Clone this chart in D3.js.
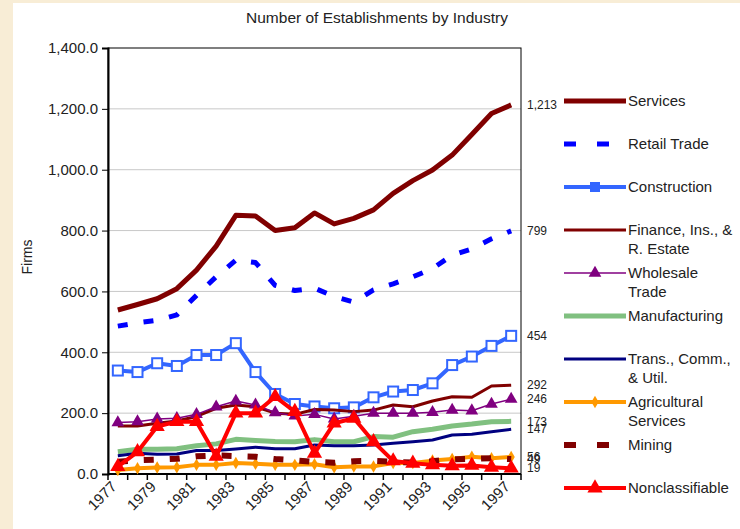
<!DOCTYPE html>
<html>
<head>
<meta charset="utf-8">
<script src="https://cdn.jsdelivr.net/npm/d3@7"></script>
<style>
  body { margin: 0; background: #f8edd6; }
  svg { display: block; font-family: "Liberation Sans", Arial, sans-serif; }
</style>
</head>
<body>
<svg id="chart" width="740" height="529"></svg>
<script>
// data
const years = [1977, 1978, 1979, 1980, 1981, 1982, 1983, 1984, 1985, 1986, 1987,
  1988, 1989, 1990, 1991, 1992, 1993, 1994, 1995, 1996, 1997];
const yearLabels = [1977, 1979, 1981, 1983, 1985, 1987, 1989, 1991, 1993, 1995, 1997];
const yTicks = [0, 200, 400, 600, 800, 1000, 1200, 1400];

const services = [539, 557, 576, 609, 670, 749, 850, 848, 800, 809, 858, 822, 840, 868, 922, 964, 999, 1048, 1116, 1185, 1213];
const retail = [486, 497, 505, 523, 587, 648, 703, 695, 620, 603, 611, 583, 565, 605, 625, 648, 675, 719, 740, 773, 799];
const construction = [340, 335, 364, 355, 391, 391, 430, 335, 263, 230, 222, 216, 219, 252, 271, 276, 298, 358, 386, 421, 454];
const finance = [158, 158, 167, 174, 189, 216, 227, 221, 200, 196, 212, 210, 205, 210, 227, 221, 240, 254, 252, 289, 292];
const wholesale = [169, 172, 181, 183, 196, 221, 240, 227, 202, 191, 196, 181, 190, 200, 200, 200, 203, 210, 208, 230, 246];
const manufacturing = [73, 81, 81, 83, 93, 99, 114, 110, 107, 106, 113, 106, 106, 123, 121, 139, 147, 158, 164, 172, 173];
const trans = [60, 68, 65, 66, 77, 77, 82, 88, 83, 83, 95, 93, 93, 95, 101, 106, 112, 128, 131, 139, 147];
const agricultural = [13, 19, 21, 22, 30, 30, 36, 34, 30, 30, 32, 22, 25, 25, 36, 36, 44, 49, 57, 52, 56];
const mining = [40, 45, 47, 50, 58, 61, 59, 57, 49, 45, 40, 37, 42, 43, 40, 38, 42, 48, 50, 52, 49];
const nonclass = [24, 73, 156, 172, 172, 58, 200, 200, 254, 205, 68, 167, 183, 106, 43, 35, 30, 27, 28, 22, 19];

const series = [
  { name: ["Services"], values: services, color: "#800000", width: 5 },
  { name: ["Retail Trade"], values: retail, color: "#0000ff", width: 5, dash: "10,16" },
  { name: ["Construction"], values: construction, color: "#3366ff", width: 4, marker: "square" },
  { name: ["Finance, Ins., &", "R. Estate"], values: finance, color: "#800000", width: 3 },
  { name: ["Wholesale", "Trade"], values: wholesale, color: "#800080", width: 1.5, marker: "triangle", msize: 70 },
  { name: ["Manufacturing"], values: manufacturing, color: "#80c080", width: 5 },
  { name: ["Trans., Comm.,", "& Util."], values: trans, color: "#000080", width: 3 },
  { name: ["Agricultural", "Services"], values: agricultural, color: "#ff9900", width: 4, marker: "diamond", msize: 45 },
  { name: ["Mining"], values: mining, color: "#800000", width: 6, dash: "10,16" },
  { name: ["Nonclassifiable"], values: nonclass, color: "#ff0000", width: 4, marker: "triangle", msize: 100 }
];

const svg = d3.select("#chart");
const plotLeft = 108, plotRight = 521, plotTop = 48, plotBottom = 474;

// white panel
svg.append("rect").attr("x", 13).attr("y", 3).attr("width", 727).attr("height", 526).attr("fill", "#fff");

const x = d3.scaleBand().domain(years).range([plotLeft, plotRight]);
const xc = d => x(d) + x.bandwidth() / 2;
const y = d3.scaleLinear().domain([0, 1400]).range([plotBottom, plotTop]);

// title
svg.append("text")
  .attr("x", 377).attr("y", 23)
  .attr("text-anchor", "middle")
  .attr("font-size", 15.5)
  .attr("fill", "#222")
  .text("Number of Establishments by Industry");

// grid
svg.append("g")
  .selectAll("line")
  .data(yTicks.slice(1, -1))
  .join("line")
  .attr("x1", plotLeft).attr("x2", plotRight)
  .attr("y1", d => y(d)).attr("y2", d => y(d))
  .attr("stroke", "#c8c8c8");

// frame
svg.append("rect")
  .attr("x", plotLeft).attr("y", plotTop)
  .attr("width", plotRight - plotLeft).attr("height", plotBottom - plotTop)
  .attr("fill", "none").attr("stroke", "#000").attr("stroke-width", 1);

// y axis
const yAxis = svg.append("g")
  .attr("transform", `translate(${plotLeft},0)`)
  .call(d3.axisLeft(y).tickValues(yTicks).tickFormat(d3.format(",.1f")).tickSize(6).tickPadding(4));
yAxis.select(".domain").attr("stroke-width", 2);
yAxis.selectAll("text").attr("font-size", 15).attr("fill", "#222").attr("font-family", "'Liberation Sans', sans-serif");

svg.append("text")
  .attr("transform", "translate(32,257) rotate(-90)")
  .attr("text-anchor", "middle")
  .attr("font-size", 14)
  .attr("fill", "#222")
  .text("Firms");

// x axis: ticks on category boundaries
const bounds = years.map(d => x(d)).concat([x.range()[1]]);
svg.append("line")
  .attr("x1", plotLeft).attr("x2", plotRight)
  .attr("y1", plotBottom).attr("y2", plotBottom)
  .attr("stroke", "#000").attr("stroke-width", 2);
svg.append("g")
  .selectAll("line")
  .data(bounds)
  .join("line")
  .attr("x1", d => d).attr("x2", d => d)
  .attr("y1", plotBottom).attr("y2", plotBottom + 6)
  .attr("stroke", "#000").attr("stroke-width", 1.5);
svg.append("g")
  .selectAll("text")
  .data(yearLabels)
  .join("text")
  .attr("transform", d => `translate(${xc(d) - 4},${plotBottom + 10}) rotate(-45)`)
  .attr("text-anchor", "end")
  .attr("dy", "0.35em")
  .attr("font-size", 15)
  .attr("fill", "#222")
  .text(d => d);

// lines
const line = d3.line().x((d, i) => xc(years[i])).y(d => y(d));
const symbolType = { square: d3.symbolSquare, triangle: d3.symbolTriangle, diamond: d3.symbolDiamond };

series.forEach(s => {
  svg.append("path")
    .datum(s.values)
    .attr("d", line)
    .attr("fill", "none")
    .attr("stroke", s.color)
    .attr("stroke-width", s.width)
    .attr("stroke-linejoin", "round")
    .attr("stroke-dasharray", s.dash || null);

  if (s.marker === "square") {
    svg.append("g")
      .selectAll("rect")
      .data(s.values)
      .join("rect")
      .attr("x", (d, i) => xc(years[i]) - 5)
      .attr("y", d => y(d) - 5)
      .attr("width", 10).attr("height", 10)
      .attr("fill", "#fff")
      .attr("stroke", s.color).attr("stroke-width", 2);
  } else if (s.marker) {
    svg.append("g")
      .selectAll("path")
      .data(s.values)
      .join("path")
      .attr("transform", (d, i) => `translate(${xc(years[i])},${y(d)})`)
      .attr("d", d3.symbol().type(symbolType[s.marker]).size(s.msize))
      .attr("fill", s.color);
  }
});

// end-value labels
svg.append("g")
  .selectAll("text")
  .data(series)
  .join("text")
  .attr("x", plotRight + 6)
  .attr("y", d => y(d.values[d.values.length - 1]))
  .attr("dy", "0.35em")
  .attr("font-size", 12)
  .attr("fill", "#222")
  .text(d => d3.format(",")(d.values[d.values.length - 1]));

// legend
const legend = svg.append("g");
series.forEach((s, i) => {
  const ly = 101 + i * 43;
  legend.append("line")
    .attr("x1", 564).attr("x2", 626)
    .attr("y1", ly).attr("y2", ly)
    .attr("stroke", s.color)
    .attr("stroke-width", s.width)
    .attr("stroke-dasharray", s.dash ? "12,21" : null);
  if (s.marker === "square") {
    legend.append("rect")
      .attr("x", 590).attr("y", ly - 5).attr("width", 10).attr("height", 10)
      .attr("fill", s.color);
  } else if (s.marker) {
    legend.append("path")
      .attr("transform", `translate(595,${ly})`)
      .attr("d", d3.symbol().type(symbolType[s.marker]).size(s.msize))
      .attr("fill", s.color);
  }
  s.name.forEach((t, j) => {
    legend.append("text")
      .attr("x", 628).attr("y", ly + j * 19)
      .attr("dy", "0.35em")
      .attr("font-size", 15)
      .attr("fill", "#222")
      .text(t);
  });
});
</script>
</body>
</html>
